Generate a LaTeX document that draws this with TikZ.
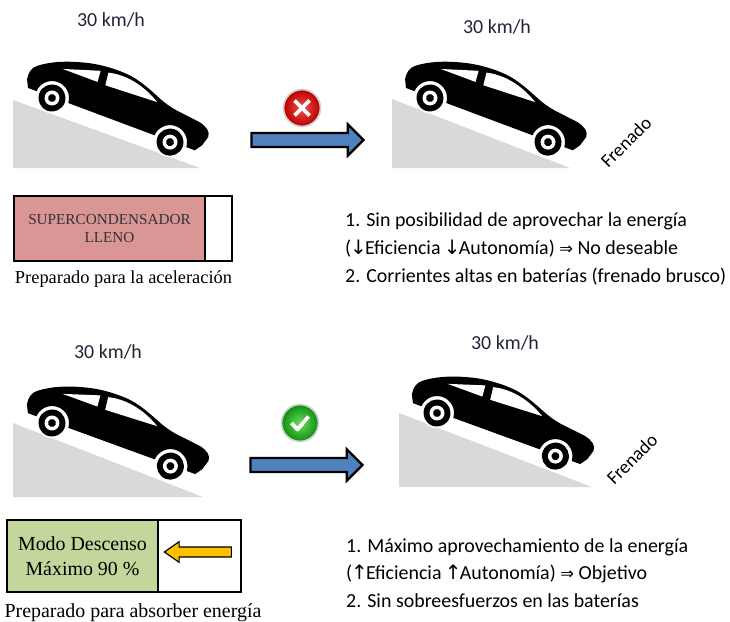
\documentclass[tikz,border=0pt]{standalone}
\usepackage{fontspec}
\setmainfont{Liberation Serif}
\setsansfont{Carlito}
\newfontfamily\arrowfont{DejaVu Sans}
\usepackage{tikz}
\usetikzlibrary{shapes.arrows, positioning}

\definecolor{slopegray}{HTML}{D9D9D9}
\definecolor{fullpink}{HTML}{DA9694}
\definecolor{descgreen}{HTML}{C3D69B}
\definecolor{flowblue}{HTML}{4F81BD}
\definecolor{regenyellow}{HTML}{FFC000}
\definecolor{speedtext}{HTML}{1F2633}
\definecolor{redin}{HTML}{F25050}
\definecolor{redout}{HTML}{B80000}
\definecolor{greenin}{HTML}{6ADC5A}
\definecolor{greenout}{HTML}{0E8E12}
\definecolor{iconrim}{HTML}{D4D4D4}

% one pixel of the drawing
\newcommand{\pxu}{0.03cm}
% small arrow glyphs inside the notes
\newcommand{\sym}[1]{{\kern-1pt\arrowfont #1\kern-1.5pt}}

\tikzstyle{speed} = [font=\sffamily\fontsize{17}{20}\selectfont, text=speedtext]
\tikzstyle{brake} = [font=\sffamily\fontsize{16}{19}\selectfont, rotate=45]
\tikzstyle{notes} = [font=\sffamily\fontsize{17}{23.6}\selectfont, align=left, anchor=west, inner sep=0pt]
\tikzstyle{caption} = [inner sep=0pt, anchor=base]
\tikzstyle{charge} = [rectangle, draw=black, line width=1pt, outer sep=0pt, inner sep=0pt, align=center]
\tikzstyle{flow} = [single arrow, draw=black, line width=2pt, fill=flowblue, single arrow head extend=7.5pt, inner xsep=0pt, inner ysep=5pt, minimum height=112*\pxu]
\tikzstyle{regen} = [single arrow, shape border rotate=180, draw=black, line width=1pt, fill=regenyellow, single arrow head extend=4.5pt, single arrow tip angle=70, inner xsep=0pt, inner ysep=3.8pt, minimum height=67*\pxu]
\tikzstyle{icon} = [circle, minimum size=37*\pxu, draw=iconrim, line width=1.5pt]
\tikzstyle{slope} = [fill=slopegray]

% side view of the car, origin at the rear wheel
\tikzset{
  pics/sedan/.style={code={
    \begin{scope}[x=\pxu, y=\pxu]
      \fill[black, preaction={draw=white, line width=4pt, line join=round}]
        (-26,1) -- (-30,9) .. controls (-31,16) and (-30,21) .. (-25,25)
        .. controls (-15,33) and (0,40) .. (20,45)
        .. controls (35,49) and (55,50) .. (68,48)
        .. controls (80,46) and (92,41) .. (102,37)
        .. controls (110,34) and (115,33) .. (121,32) -- (147,29)
        .. controls (155,27) and (160,24) .. (160,18) -- (157,8) -- (152,1) -- (143,1)
        arc[start angle=3.4, end angle=176.6, radius=17] -- (17,1)
        arc[start angle=3.4, end angle=176.6, radius=17] -- cycle;
      % windows
      \fill[white] (0,31) -- (36,42.5) -- (37,31) -- cycle;
      \fill[white] (44,43.5) .. controls (60,47.5) and (80,45) .. (100,33) -- (45.5,30.6) -- cycle;
      % wheels
      \foreach \wx in {0,126} {
        \fill[black, preaction={draw=white, line width=3pt}] (\wx,0) circle[radius=13.5];
        \fill[white] (\wx,0) circle[radius=7.5];
        \fill[black] (\wx,0) circle[radius=4];
      }
    \end{scope}
  }}
}

\begin{document}
\begin{tikzpicture}[x=\pxu, y=-\pxu]
	\useasboundingbox (0,0) rectangle (730,622);

	% --- supercapacitor full ---
	\fill[slope] (13,100) -- (13,168) -- (200,168) -- cycle;
	\fill[slope] (392,99) -- (392,168) -- (570,168) -- cycle;
	\pic[rotate=-20.5] at (52,98) {sedan};
	\pic[rotate=-20.5] at (430,98) {sedan};
	\node (speedA)[speed] at (111,20) {30 km/h};
	\node (speedB)[speed] at (497,27) {30 km/h};
	\node (brakeA)[brake] at (626,142) {Frenado};
	\node (flowA)[flow] at (304,140) {};
	\node (fail)[icon, inner color=redin, outer color=redout,
		path picture={\draw[white, line width=3.2pt]
			([shift={(-7.5,-7.5)}]path picture bounding box.center) -- ([shift={(7.5,7.5)}]path picture bounding box.center)
			([shift={(-7.5,7.5)}]path picture bounding box.center) -- ([shift={(7.5,-7.5)}]path picture bounding box.center);}] at (302,108) {};

	\node (fullcap)[charge, fill=fullpink, minimum width=191*\pxu, minimum height=65*\pxu, anchor=north west,
		font=\fontsize{13}{16}\selectfont, text=black!80] at (14,196) {SUPERCONDENSADOR\\LLENO};
	\node (spaceA)[charge, fill=white, minimum width=27*\pxu, minimum height=65*\pxu, right=0pt of fullcap] {};
	\node (readyA)[caption, font=\fontsize{15.7}{19}\selectfont] at (123.5,283) {Preparado para la aceleración};

	\node (notesA)[notes] at (345,249) {1. Sin posibilidad de aprovechar la energía\\
		(\sym{↓}Eficiencia \sym{↓}Autonomía) {\arrowfont\fontsize{14}{14}\selectfont⇒} No deseable\\
		2. Corrientes altas en baterías (frenado brusco)};

	% --- descent mode ---
	\fill[slope] (13,423) -- (13,497) -- (203,497) -- cycle;
	\fill[slope] (399,413) -- (399,487) -- (592,487) -- cycle;
	\pic[rotate=-20] at (52,423) {sedan};
	\pic[rotate=-20] at (437,413) {sedan};
	\node (speedC)[speed] at (108,352) {30 km/h};
	\node (speedD)[speed] at (505,343) {30 km/h};
	\node (brakeB)[brake] at (632,459) {Frenado};
	\node (flowB)[flow] at (303,465) {};
	\node (pass)[icon, inner color=greenin, outer color=greenout,
		path picture={\draw[white, line width=3.2pt, line join=round]
			([shift={(-8.5,0)}]path picture bounding box.center) -- ([shift={(-2.5,6.5)}]path picture bounding box.center)
			-- ([shift={(8.5,-6.5)}]path picture bounding box.center);}] at (300,423) {};

	\node (descent)[charge, fill=descgreen, minimum width=151*\pxu, minimum height=72*\pxu, anchor=north west,
		font=\fontsize{17}{21}\selectfont] at (7,520) {Modo Descenso\\Máximo 90 \%};
	\node (spaceB)[charge, fill=white, minimum width=83*\pxu, minimum height=72*\pxu, right=0pt of descent] {};
	\node (absorb)[regen] at (201.5,552) {};
	\node (readyB)[caption, font=\fontsize{17}{20}\selectfont] at (133,617) {Preparado para absorber energía};

	\node (notesB)[notes] at (346,573) {1. Máximo aprovechamiento de la energía\\
		(\sym{↑}Eficiencia \sym{↑}Autonomía) {\arrowfont\fontsize{14}{14}\selectfont⇒} Objetivo\\
		2. Sin sobreesfuerzos en las baterías};
\end{tikzpicture}
\end{document}
